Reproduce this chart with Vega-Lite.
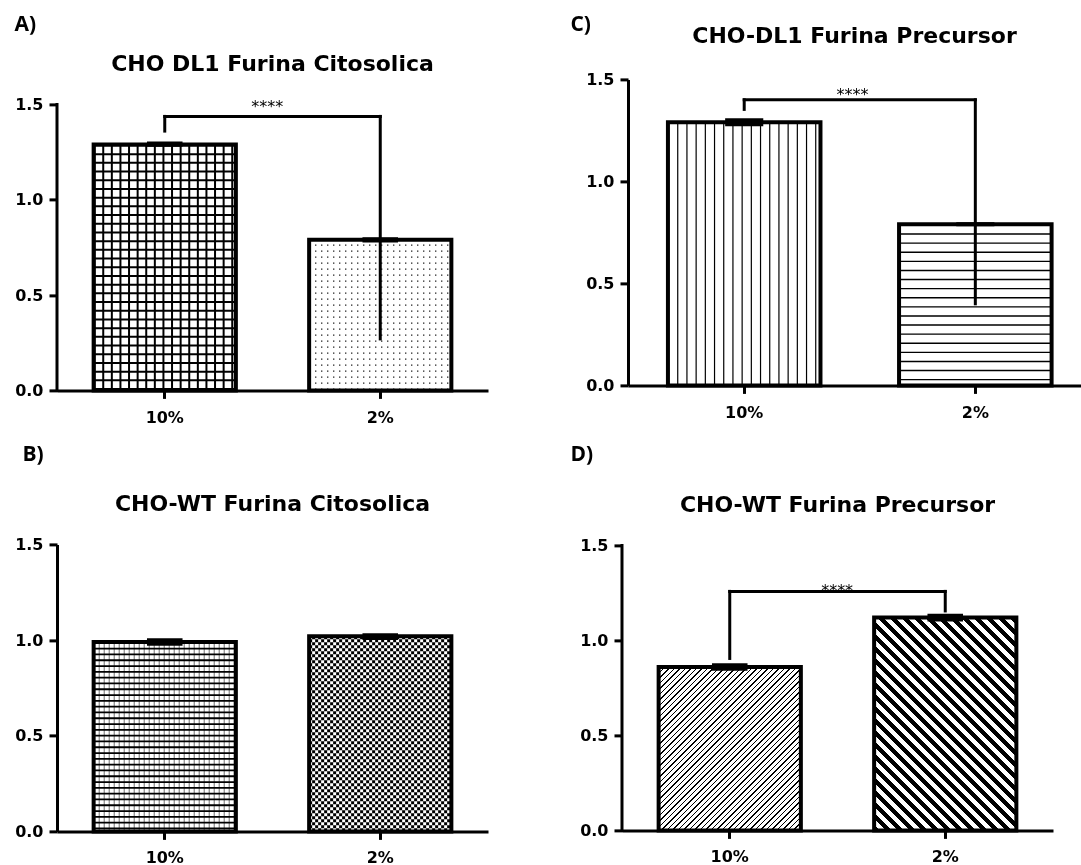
{
"$schema": "https://vega.github.io/schema/vega-lite/v6.json",
"background": "white",
"padding": {"left": 14, "top": 13.4, "right": 0, "bottom": 0},
"config": {
  "view": {"stroke": null},
  "font": "DejaVu Sans",
  "axis": {"domainColor": "#000", "domainWidth": 3, "tickColor": "#000", "tickWidth": 3, "tickSize": 8, "labelFont": "DejaVu Sans", "labelFontWeight": "bold", "labelFontSize": 16, "labelColor": "#000", "grid": false},
  "axisY": {"labelPadding": 6, "titleAngle": 0, "titleAlign": "left", "titleBaseline": "top", "titleFont": "Open Sans", "titleFontSize": 21, "titleFontWeight": "bold", "titleColor": "#000"},
  "axisX": {"labelPadding": 11, "labelAngle": 0},
  "title": {"anchor": "middle", "frame": "group", "font": "DejaVu Sans", "fontSize": 22, "fontWeight": "bold", "color": "#000"}
},
"datasets": {
  "bars": [
    {"p": "A", "g": "10%", "v": 1.29, "lo": 1.278, "hi": 1.306},
    {"p": "A", "g": "2%", "v": 0.79, "lo": 0.776, "hi": 0.803},
    {"p": "C", "g": "10%", "v": 1.29, "lo": 1.27, "hi": 1.31},
    {"p": "C", "g": "2%", "v": 0.79, "lo": 0.78, "hi": 0.80},
    {"p": "B", "g": "10%", "v": 0.99, "lo": 0.97, "hi": 1.01},
    {"p": "B", "g": "2%", "v": 1.02, "lo": 1.0, "hi": 1.035},
    {"p": "D", "g": "10%", "v": 0.86, "lo": 0.84, "hi": 0.88},
    {"p": "D", "g": "2%", "v": 1.12, "lo": 1.10, "hi": 1.14}
  ],
  "sig": [
    {"p": "A", "a": "10%", "b": "2%", "y": 1.437, "ya": 1.36, "yb": 0.27, "s": "****"},
    {"p": "C", "a": "10%", "b": "2%", "y": 1.40, "ya": 1.353, "yb": 0.40, "s": "****"},
    {"p": "D", "a": "10%", "b": "2%", "y": 1.258, "ya": 0.905, "yb": 1.155, "s": "****"}
  ],
  "axisline": [{"lo": 0, "hi": 1.5}]
},
"columns": 2,
"align": "none",
"spacing": {"row": 18, "column": 82},
"resolve": {"scale": {"strokeWidth": "independent"}},
"concat": [
{
  "width": 431, "height": 311,
  "title": {"text": "CHO DL1 Furina Citosolica", "offset": -62},
  "layer": [
   {"data": {"name": "bars"}, "transform": [{"filter": "datum.p == 'A'"}],
    "mark": {"type": "bar", "fill": "#fff"},
    "encoding": {
      "x": {"field": "g", "type": "nominal", "scale": {"domain": ["10%", "2%"], "paddingInner": 0.34, "paddingOuter": 0.17}, "axis": {"labelAngle": 0, "title": null}},
      "y": {"field": "v", "type": "quantitative", "scale": {"domain": [0, 1.6311], "nice": false}, "axis": {"values": [0, 0.5, 1, 1.5], "format": ".1f", "domain": false, "title": "A)", "titleX": -43, "titleY": -65.6}}}},
   {"data": {"name": "axisline"},
    "mark": {"type": "rule", "stroke": "#000", "strokeWidth": 3, "strokeCap": "square"},
    "encoding": {"x": {"datum": "10%", "type": "nominal", "bandPosition": -0.2576}, "y": {"field": "lo", "type": "quantitative"}, "y2": {"field": "hi"}}},
   {"data": {"name": "bars"}, "transform": [{"filter": "datum.p == 'A' && datum.g == '10%'"}],
    "mark": {"type": "rule", "clip": true, "stroke": "#000", "strokeDash": [2, 6.6], "strokeCap": "butt"},
    "encoding": {"x": {"field": "g", "type": "nominal", "bandPosition": 0}, "x2": {"field": "g", "bandPosition": 1}, "y": {"datum": 0},
      "strokeWidth": {"field": "v", "type": "quantitative", "scale": {"domain": [0, 1.5], "range": [0, 572]}, "legend": null}}},
   {"data": {"name": "bars"}, "transform": [{"filter": "datum.p == 'A' && datum.g == '10%'"}],
    "mark": {"type": "rule", "clip": true, "stroke": "#000", "strokeWidth": 142, "strokeDash": [2, 6.7], "strokeCap": "butt"},
    "encoding": {"x": {"field": "g", "type": "nominal"}, "y": {"field": "v", "type": "quantitative"}, "y2": {"datum": 0}}},
   {"data": {"name": "bars"}, "transform": [{"filter": "datum.p == 'A' && datum.g == '2%'"}],
    "mark": {"type": "rule", "clip": true, "stroke": "#000", "strokeDash": [1.2, 4.8], "strokeCap": "butt"},
    "encoding": {"x": {"field": "g", "type": "nominal", "bandPosition": 0}, "x2": {"field": "g", "bandPosition": 1}, "y": {"datum": 0},
      "strokeWidth": {"field": "v", "type": "quantitative", "scale": {"domain": [0, 1.5], "range": [0, 572]}, "legend": null}}},
   {"data": {"name": "bars"}, "transform": [{"filter": "datum.p == 'A' && datum.g == '2%'"}],
    "mark": {"type": "rule", "clip": true, "stroke": "#fff", "strokeWidth": 142, "strokeDash": [4.8, 1.2], "strokeCap": "butt"},
    "encoding": {"x": {"field": "g", "type": "nominal"}, "y": {"field": "v", "type": "quantitative"}, "y2": {"datum": 0}}},
   {"data": {"name": "bars"}, "transform": [{"filter": "datum.p == 'A'"}],
    "mark": {"type": "bar", "fill": "#fff", "fillOpacity": 0, "stroke": "#000", "strokeWidth": 4},
    "encoding": {"x": {"field": "g", "type": "nominal"}, "y": {"field": "v", "type": "quantitative"}}},
   {"data": {"name": "bars"}, "transform": [{"filter": "datum.p == 'A'"}],
    "mark": {"type": "bar", "fill": "#000", "width": {"band": 0.25}},
    "encoding": {"x": {"field": "g", "type": "nominal"}, "y": {"field": "lo", "type": "quantitative"}, "y2": {"field": "hi"}}},
   {"data": {"name": "sig"}, "transform": [{"filter": "datum.p == 'A'"}],
    "mark": {"type": "rule", "stroke": "#000", "strokeWidth": 3, "strokeCap": "square"},
    "encoding": {"x": {"field": "a", "type": "nominal", "bandPosition": 0.5}, "x2": {"field": "b", "bandPosition": 0.5}, "y": {"field": "y", "type": "quantitative"}}},
   {"data": {"name": "sig"}, "transform": [{"filter": "datum.p == 'A'"}],
    "mark": {"type": "rule", "stroke": "#000", "strokeWidth": 3, "strokeCap": "square"},
    "encoding": {"x": {"field": "a", "type": "nominal"}, "y": {"field": "y", "type": "quantitative"}, "y2": {"field": "ya"}}},
   {"data": {"name": "sig"}, "transform": [{"filter": "datum.p == 'A'"}],
    "mark": {"type": "rule", "stroke": "#000", "strokeWidth": 3, "strokeCap": "square"},
    "encoding": {"x": {"field": "b", "type": "nominal"}, "y": {"field": "y", "type": "quantitative"}, "y2": {"field": "yb"}}},
   {"data": {"name": "sig"}, "transform": [{"filter": "datum.p == 'A'"}],
    "mark": {"type": "text", "font": "DejaVu Sans", "fontSize": 16, "color": "#000", "baseline": "alphabetic", "align": "center", "dy": -4},
    "encoding": {"x": {"field": "a", "type": "nominal", "bandPosition": 1.22}, "y": {"field": "y", "type": "quantitative"}, "text": {"field": "s"}}}
  ]
},
{
  "width": 453, "height": 306,
  "title": {"text": "CHO-DL1 Furina Precursor", "offset": -34},
  "layer": [
   {"data": {"name": "bars"}, "transform": [{"filter": "datum.p == 'C'"}],
    "mark": {"type": "bar", "fill": "#fff"},
    "encoding": {
      "x": {"field": "g", "type": "nominal", "scale": {"domain": ["10%", "2%"], "paddingInner": 0.34, "paddingOuter": 0.15, "align": 0.576}, "axis": {"labelAngle": 0, "title": null}},
      "y": {"field": "v", "type": "quantitative", "scale": {"domain": [0, 1.5], "nice": false}, "axis": {"values": [0, 0.5, 1, 1.5], "format": ".1f", "title": "C)", "titleX": -58, "titleY": -65.6}}}},
   {"data": {"name": "bars"}, "transform": [{"filter": "datum.p == 'C' && datum.g == '10%'"}],
    "mark": {"type": "rule", "clip": true, "stroke": "#000", "strokeDash": [1.2, 8], "strokeCap": "butt"},
    "encoding": {"x": {"field": "g", "type": "nominal", "bandPosition": 0}, "x2": {"field": "g", "bandPosition": 1}, "y": {"datum": 0},
      "strokeWidth": {"field": "v", "type": "quantitative", "scale": {"domain": [0, 1.5], "range": [0, 612]}, "legend": null}}},
   {"data": {"name": "bars"}, "transform": [{"filter": "datum.p == 'C' && datum.g == '2%'"}],
    "mark": {"type": "rule", "clip": true, "stroke": "#000", "strokeWidth": 152, "strokeDash": [1.4, 7.7], "strokeCap": "butt"},
    "encoding": {"x": {"field": "g", "type": "nominal"}, "y": {"field": "v", "type": "quantitative"}, "y2": {"datum": 0}}},
   {"data": {"name": "bars"}, "transform": [{"filter": "datum.p == 'C'"}],
    "mark": {"type": "bar", "fill": "#fff", "fillOpacity": 0, "stroke": "#000", "strokeWidth": 4},
    "encoding": {"x": {"field": "g", "type": "nominal"}, "y": {"field": "v", "type": "quantitative"}}},
   {"data": {"name": "bars"}, "transform": [{"filter": "datum.p == 'C'"}],
    "mark": {"type": "bar", "fill": "#000", "width": {"band": 0.25}},
    "encoding": {"x": {"field": "g", "type": "nominal"}, "y": {"field": "lo", "type": "quantitative"}, "y2": {"field": "hi"}}},
   {"data": {"name": "sig"}, "transform": [{"filter": "datum.p == 'C'"}],
    "mark": {"type": "rule", "stroke": "#000", "strokeWidth": 3, "strokeCap": "square"},
    "encoding": {"x": {"field": "a", "type": "nominal", "bandPosition": 0.5}, "x2": {"field": "b", "bandPosition": 0.5}, "y": {"field": "y", "type": "quantitative"}}},
   {"data": {"name": "sig"}, "transform": [{"filter": "datum.p == 'C'"}],
    "mark": {"type": "rule", "stroke": "#000", "strokeWidth": 3, "strokeCap": "square"},
    "encoding": {"x": {"field": "a", "type": "nominal"}, "y": {"field": "y", "type": "quantitative"}, "y2": {"field": "ya"}}},
   {"data": {"name": "sig"}, "transform": [{"filter": "datum.p == 'C'"}],
    "mark": {"type": "rule", "stroke": "#000", "strokeWidth": 3, "strokeCap": "square"},
    "encoding": {"x": {"field": "b", "type": "nominal"}, "y": {"field": "y", "type": "quantitative"}, "y2": {"field": "yb"}}},
   {"data": {"name": "sig"}, "transform": [{"filter": "datum.p == 'C'"}],
    "mark": {"type": "text", "font": "DejaVu Sans", "fontSize": 16, "color": "#000", "baseline": "alphabetic", "align": "center", "dy": 0},
    "encoding": {"x": {"field": "a", "type": "nominal", "bandPosition": 1.21}, "y": {"field": "y", "type": "quantitative"}, "text": {"field": "s"}}}
  ]
},
{
  "width": 431, "height": 287,
  "title": {"text": "CHO-WT Furina Citosolica", "offset": -72},
  "layer": [
   {"data": {"name": "bars"}, "transform": [{"filter": "datum.p == 'B'"}],
    "mark": {"type": "bar", "fill": "#fff"},
    "encoding": {
      "x": {"field": "g", "type": "nominal", "scale": {"domain": ["10%", "2%"], "paddingInner": 0.34, "paddingOuter": 0.17}, "axis": {"labelAngle": 0, "title": null, "labelPadding": 10}},
      "y": {"field": "v", "type": "quantitative", "scale": {"domain": [0, 1.5], "nice": false}, "axis": {"values": [0, 0.5, 1, 1.5], "format": ".1f", "title": "B)", "titleX": -35, "titleY": -100.6}}}},
   {"data": {"name": "bars"}, "transform": [{"filter": "datum.p == 'B' && datum.g == '10%'"}],
    "mark": {"type": "rule", "clip": true, "stroke": "#888", "strokeDash": [1.2, 3.8], "strokeCap": "butt"},
    "encoding": {"x": {"field": "g", "type": "nominal", "bandPosition": 0}, "x2": {"field": "g", "bandPosition": 1}, "y": {"datum": 0},
      "strokeWidth": {"field": "v", "type": "quantitative", "scale": {"domain": [0, 1.5], "range": [0, 574]}, "legend": null}}},
   {"data": {"name": "bars"}, "transform": [{"filter": "datum.p == 'B' && datum.g == '10%'"}],
    "mark": {"type": "rule", "clip": true, "stroke": "#000", "strokeWidth": 142, "strokeDash": [1.8, 4], "strokeCap": "butt"},
    "encoding": {"x": {"field": "g", "type": "nominal"}, "y": {"field": "v", "type": "quantitative"}, "y2": {"datum": 0}}},
   {"data": {"name": "bars"}, "transform": [{"filter": "datum.p == 'B' && datum.g == '2%'"}],
    "mark": {"type": "rule", "clip": true, "stroke": "#000", "strokeDash": [3, 3], "strokeCap": "butt"},
    "encoding": {"x": {"field": "g", "type": "nominal", "bandPosition": 0}, "x2": {"field": "g", "bandPosition": 1}, "y": {"datum": 0},
      "strokeWidth": {"field": "v", "type": "quantitative", "scale": {"domain": [0, 1.5], "range": [0, 574]}, "legend": null}}},
   {"data": {"name": "bars"}, "transform": [{"filter": "datum.p == 'B' && datum.g == '2%'"}],
    "mark": {"type": "rule", "stroke": "#fff", "strokeWidth": 142, "strokeDash": [3, 3], "strokeCap": "butt", "blend": "difference"},
    "encoding": {"x": {"field": "g", "type": "nominal"}, "y": {"field": "v", "type": "quantitative"}, "y2": {"datum": 0}}},
   {"data": {"name": "bars"}, "transform": [{"filter": "datum.p == 'B'"}],
    "mark": {"type": "bar", "fill": "#fff", "fillOpacity": 0, "stroke": "#000", "strokeWidth": 4},
    "encoding": {"x": {"field": "g", "type": "nominal"}, "y": {"field": "v", "type": "quantitative"}}},
   {"data": {"name": "bars"}, "transform": [{"filter": "datum.p == 'B'"}],
    "mark": {"type": "bar", "fill": "#000", "width": {"band": 0.25}},
    "encoding": {"x": {"field": "g", "type": "nominal"}, "y": {"field": "lo", "type": "quantitative"}, "y2": {"field": "hi"}}}
  ]
},
{
  "width": 431, "height": 288,
  "title": {"text": "CHO-WT Furina Precursor", "offset": -73},
  "layer": [
   {"data": {"name": "bars"}, "transform": [{"filter": "datum.p == 'D'"}],
    "mark": {"type": "bar", "fill": "#fff"},
    "encoding": {
      "x": {"field": "g", "type": "nominal", "scale": {"domain": ["10%", "2%"], "paddingInner": 0.34, "paddingOuter": 0.17}, "axis": {"labelAngle": 0, "title": null, "labelPadding": 10}},
      "y": {"field": "v", "type": "quantitative", "scale": {"domain": [0, 1.5158], "nice": false}, "axis": {"values": [0, 0.5, 1, 1.5], "format": ".1f", "domain": false, "title": "D)", "titleX": -52, "titleY": -98.4}}}},
   {"data": {"name": "axisline"},
    "mark": {"type": "rule", "stroke": "#000", "strokeWidth": 3, "strokeCap": "square"},
    "encoding": {"x": {"datum": "10%", "type": "nominal", "bandPosition": -0.2576}, "y": {"field": "lo", "type": "quantitative"}, "y2": {"field": "hi"}}},
   {"data": {"name": "bars"}, "transform": [{"filter": "datum.p == 'D' && datum.g == '10%'"}],
    "mark": {"type": "bar", "fill": {"gradient": "linear", "x1": 0, "y1": 0, "x2": 1, "y2": 1.149, "stops": [
{"offset":0,"color":"#fff"},{"offset":0,"color":"#000"},{"offset":0.0055,"color":"#000"},{"offset":0.0055,"color":"#fff"},
{"offset":0.0167,"color":"#fff"},{"offset":0.0167,"color":"#000"},{"offset":0.0222,"color":"#000"},{"offset":0.0222,"color":"#fff"},
{"offset":0.0333,"color":"#fff"},{"offset":0.0333,"color":"#000"},{"offset":0.0388,"color":"#000"},{"offset":0.0388,"color":"#fff"},
{"offset":0.05,"color":"#fff"},{"offset":0.05,"color":"#000"},{"offset":0.0555,"color":"#000"},{"offset":0.0555,"color":"#fff"},
{"offset":0.0667,"color":"#fff"},{"offset":0.0667,"color":"#000"},{"offset":0.0722,"color":"#000"},{"offset":0.0722,"color":"#fff"},
{"offset":0.0833,"color":"#fff"},{"offset":0.0833,"color":"#000"},{"offset":0.0888,"color":"#000"},{"offset":0.0888,"color":"#fff"},
{"offset":0.1,"color":"#fff"},{"offset":0.1,"color":"#000"},{"offset":0.1055,"color":"#000"},{"offset":0.1055,"color":"#fff"},
{"offset":0.1167,"color":"#fff"},{"offset":0.1167,"color":"#000"},{"offset":0.1222,"color":"#000"},{"offset":0.1222,"color":"#fff"},
{"offset":0.1333,"color":"#fff"},{"offset":0.1333,"color":"#000"},{"offset":0.1388,"color":"#000"},{"offset":0.1388,"color":"#fff"},
{"offset":0.15,"color":"#fff"},{"offset":0.15,"color":"#000"},{"offset":0.1555,"color":"#000"},{"offset":0.1555,"color":"#fff"},
{"offset":0.1667,"color":"#fff"},{"offset":0.1667,"color":"#000"},{"offset":0.1722,"color":"#000"},{"offset":0.1722,"color":"#fff"},
{"offset":0.1833,"color":"#fff"},{"offset":0.1833,"color":"#000"},{"offset":0.1888,"color":"#000"},{"offset":0.1888,"color":"#fff"},
{"offset":0.2,"color":"#fff"},{"offset":0.2,"color":"#000"},{"offset":0.2055,"color":"#000"},{"offset":0.2055,"color":"#fff"},
{"offset":0.2167,"color":"#fff"},{"offset":0.2167,"color":"#000"},{"offset":0.2222,"color":"#000"},{"offset":0.2222,"color":"#fff"},
{"offset":0.2333,"color":"#fff"},{"offset":0.2333,"color":"#000"},{"offset":0.2388,"color":"#000"},{"offset":0.2388,"color":"#fff"},
{"offset":0.25,"color":"#fff"},{"offset":0.25,"color":"#000"},{"offset":0.2555,"color":"#000"},{"offset":0.2555,"color":"#fff"},
{"offset":0.2667,"color":"#fff"},{"offset":0.2667,"color":"#000"},{"offset":0.2722,"color":"#000"},{"offset":0.2722,"color":"#fff"},
{"offset":0.2833,"color":"#fff"},{"offset":0.2833,"color":"#000"},{"offset":0.2888,"color":"#000"},{"offset":0.2888,"color":"#fff"},
{"offset":0.3,"color":"#fff"},{"offset":0.3,"color":"#000"},{"offset":0.3055,"color":"#000"},{"offset":0.3055,"color":"#fff"},
{"offset":0.3167,"color":"#fff"},{"offset":0.3167,"color":"#000"},{"offset":0.3222,"color":"#000"},{"offset":0.3222,"color":"#fff"},
{"offset":0.3333,"color":"#fff"},{"offset":0.3333,"color":"#000"},{"offset":0.3388,"color":"#000"},{"offset":0.3388,"color":"#fff"},
{"offset":0.35,"color":"#fff"},{"offset":0.35,"color":"#000"},{"offset":0.3555,"color":"#000"},{"offset":0.3555,"color":"#fff"},
{"offset":0.3667,"color":"#fff"},{"offset":0.3667,"color":"#000"},{"offset":0.3722,"color":"#000"},{"offset":0.3722,"color":"#fff"},
{"offset":0.3833,"color":"#fff"},{"offset":0.3833,"color":"#000"},{"offset":0.3888,"color":"#000"},{"offset":0.3888,"color":"#fff"},
{"offset":0.4,"color":"#fff"},{"offset":0.4,"color":"#000"},{"offset":0.4055,"color":"#000"},{"offset":0.4055,"color":"#fff"},
{"offset":0.4167,"color":"#fff"},{"offset":0.4167,"color":"#000"},{"offset":0.4222,"color":"#000"},{"offset":0.4222,"color":"#fff"},
{"offset":0.4333,"color":"#fff"},{"offset":0.4333,"color":"#000"},{"offset":0.4388,"color":"#000"},{"offset":0.4388,"color":"#fff"},
{"offset":0.45,"color":"#fff"},{"offset":0.45,"color":"#000"},{"offset":0.4555,"color":"#000"},{"offset":0.4555,"color":"#fff"},
{"offset":0.4667,"color":"#fff"},{"offset":0.4667,"color":"#000"},{"offset":0.4722,"color":"#000"},{"offset":0.4722,"color":"#fff"},
{"offset":0.4833,"color":"#fff"},{"offset":0.4833,"color":"#000"},{"offset":0.4888,"color":"#000"},{"offset":0.4888,"color":"#fff"},
{"offset":0.5,"color":"#fff"},{"offset":0.5,"color":"#000"},{"offset":0.5055,"color":"#000"},{"offset":0.5055,"color":"#fff"},
{"offset":0.5167,"color":"#fff"},{"offset":0.5167,"color":"#000"},{"offset":0.5222,"color":"#000"},{"offset":0.5222,"color":"#fff"},
{"offset":0.5333,"color":"#fff"},{"offset":0.5333,"color":"#000"},{"offset":0.5388,"color":"#000"},{"offset":0.5388,"color":"#fff"},
{"offset":0.55,"color":"#fff"},{"offset":0.55,"color":"#000"},{"offset":0.5555,"color":"#000"},{"offset":0.5555,"color":"#fff"},
{"offset":0.5667,"color":"#fff"},{"offset":0.5667,"color":"#000"},{"offset":0.5722,"color":"#000"},{"offset":0.5722,"color":"#fff"},
{"offset":0.5833,"color":"#fff"},{"offset":0.5833,"color":"#000"},{"offset":0.5888,"color":"#000"},{"offset":0.5888,"color":"#fff"},
{"offset":0.6,"color":"#fff"},{"offset":0.6,"color":"#000"},{"offset":0.6055,"color":"#000"},{"offset":0.6055,"color":"#fff"},
{"offset":0.6167,"color":"#fff"},{"offset":0.6167,"color":"#000"},{"offset":0.6222,"color":"#000"},{"offset":0.6222,"color":"#fff"},
{"offset":0.6333,"color":"#fff"},{"offset":0.6333,"color":"#000"},{"offset":0.6388,"color":"#000"},{"offset":0.6388,"color":"#fff"},
{"offset":0.65,"color":"#fff"},{"offset":0.65,"color":"#000"},{"offset":0.6555,"color":"#000"},{"offset":0.6555,"color":"#fff"},
{"offset":0.6667,"color":"#fff"},{"offset":0.6667,"color":"#000"},{"offset":0.6722,"color":"#000"},{"offset":0.6722,"color":"#fff"},
{"offset":0.6833,"color":"#fff"},{"offset":0.6833,"color":"#000"},{"offset":0.6888,"color":"#000"},{"offset":0.6888,"color":"#fff"},
{"offset":0.7,"color":"#fff"},{"offset":0.7,"color":"#000"},{"offset":0.7055,"color":"#000"},{"offset":0.7055,"color":"#fff"},
{"offset":0.7167,"color":"#fff"},{"offset":0.7167,"color":"#000"},{"offset":0.7222,"color":"#000"},{"offset":0.7222,"color":"#fff"},
{"offset":0.7333,"color":"#fff"},{"offset":0.7333,"color":"#000"},{"offset":0.7388,"color":"#000"},{"offset":0.7388,"color":"#fff"},
{"offset":0.75,"color":"#fff"},{"offset":0.75,"color":"#000"},{"offset":0.7555,"color":"#000"},{"offset":0.7555,"color":"#fff"},
{"offset":0.7667,"color":"#fff"},{"offset":0.7667,"color":"#000"},{"offset":0.7722,"color":"#000"},{"offset":0.7722,"color":"#fff"},
{"offset":0.7833,"color":"#fff"},{"offset":0.7833,"color":"#000"},{"offset":0.7888,"color":"#000"},{"offset":0.7888,"color":"#fff"},
{"offset":0.8,"color":"#fff"},{"offset":0.8,"color":"#000"},{"offset":0.8055,"color":"#000"},{"offset":0.8055,"color":"#fff"},
{"offset":0.8167,"color":"#fff"},{"offset":0.8167,"color":"#000"},{"offset":0.8222,"color":"#000"},{"offset":0.8222,"color":"#fff"},
{"offset":0.8333,"color":"#fff"},{"offset":0.8333,"color":"#000"},{"offset":0.8388,"color":"#000"},{"offset":0.8388,"color":"#fff"},
{"offset":0.85,"color":"#fff"},{"offset":0.85,"color":"#000"},{"offset":0.8555,"color":"#000"},{"offset":0.8555,"color":"#fff"},
{"offset":0.8667,"color":"#fff"},{"offset":0.8667,"color":"#000"},{"offset":0.8722,"color":"#000"},{"offset":0.8722,"color":"#fff"},
{"offset":0.8833,"color":"#fff"},{"offset":0.8833,"color":"#000"},{"offset":0.8888,"color":"#000"},{"offset":0.8888,"color":"#fff"},
{"offset":0.9,"color":"#fff"},{"offset":0.9,"color":"#000"},{"offset":0.9055,"color":"#000"},{"offset":0.9055,"color":"#fff"},
{"offset":0.9167,"color":"#fff"},{"offset":0.9167,"color":"#000"},{"offset":0.9222,"color":"#000"},{"offset":0.9222,"color":"#fff"},
{"offset":0.9333,"color":"#fff"},{"offset":0.9333,"color":"#000"},{"offset":0.9388,"color":"#000"},{"offset":0.9388,"color":"#fff"}
]}},
    "encoding": {"x": {"field": "g", "type": "nominal"}, "y": {"field": "v", "type": "quantitative"}}},
   {"data": {"name": "bars"}, "transform": [{"filter": "datum.p == 'D' && datum.g == '2%'"}],
    "mark": {"type": "bar", "fill": {"gradient": "linear", "x1": 0, "y1": 1, "x2": 0.938, "y2": -0.4037, "stops": [
{"offset":0,"color":"#fff"},{"offset":0,"color":"#000"},{"offset":0.0125,"color":"#000"},{"offset":0.0125,"color":"#fff"},
{"offset":0.0278,"color":"#fff"},{"offset":0.0278,"color":"#000"},{"offset":0.0403,"color":"#000"},{"offset":0.0403,"color":"#fff"},
{"offset":0.0556,"color":"#fff"},{"offset":0.0556,"color":"#000"},{"offset":0.0681,"color":"#000"},{"offset":0.0681,"color":"#fff"},
{"offset":0.0833,"color":"#fff"},{"offset":0.0833,"color":"#000"},{"offset":0.0958,"color":"#000"},{"offset":0.0958,"color":"#fff"},
{"offset":0.1111,"color":"#fff"},{"offset":0.1111,"color":"#000"},{"offset":0.1236,"color":"#000"},{"offset":0.1236,"color":"#fff"},
{"offset":0.1389,"color":"#fff"},{"offset":0.1389,"color":"#000"},{"offset":0.1514,"color":"#000"},{"offset":0.1514,"color":"#fff"},
{"offset":0.1667,"color":"#fff"},{"offset":0.1667,"color":"#000"},{"offset":0.1792,"color":"#000"},{"offset":0.1792,"color":"#fff"},
{"offset":0.1944,"color":"#fff"},{"offset":0.1944,"color":"#000"},{"offset":0.2069,"color":"#000"},{"offset":0.2069,"color":"#fff"},
{"offset":0.2222,"color":"#fff"},{"offset":0.2222,"color":"#000"},{"offset":0.2347,"color":"#000"},{"offset":0.2347,"color":"#fff"},
{"offset":0.25,"color":"#fff"},{"offset":0.25,"color":"#000"},{"offset":0.2625,"color":"#000"},{"offset":0.2625,"color":"#fff"},
{"offset":0.2778,"color":"#fff"},{"offset":0.2778,"color":"#000"},{"offset":0.2903,"color":"#000"},{"offset":0.2903,"color":"#fff"},
{"offset":0.3056,"color":"#fff"},{"offset":0.3056,"color":"#000"},{"offset":0.3181,"color":"#000"},{"offset":0.3181,"color":"#fff"},
{"offset":0.3333,"color":"#fff"},{"offset":0.3333,"color":"#000"},{"offset":0.3458,"color":"#000"},{"offset":0.3458,"color":"#fff"},
{"offset":0.3611,"color":"#fff"},{"offset":0.3611,"color":"#000"},{"offset":0.3736,"color":"#000"},{"offset":0.3736,"color":"#fff"},
{"offset":0.3889,"color":"#fff"},{"offset":0.3889,"color":"#000"},{"offset":0.4014,"color":"#000"},{"offset":0.4014,"color":"#fff"},
{"offset":0.4167,"color":"#fff"},{"offset":0.4167,"color":"#000"},{"offset":0.4292,"color":"#000"},{"offset":0.4292,"color":"#fff"},
{"offset":0.4444,"color":"#fff"},{"offset":0.4444,"color":"#000"},{"offset":0.4569,"color":"#000"},{"offset":0.4569,"color":"#fff"},
{"offset":0.4722,"color":"#fff"},{"offset":0.4722,"color":"#000"},{"offset":0.4847,"color":"#000"},{"offset":0.4847,"color":"#fff"},
{"offset":0.5,"color":"#fff"},{"offset":0.5,"color":"#000"},{"offset":0.5125,"color":"#000"},{"offset":0.5125,"color":"#fff"},
{"offset":0.5278,"color":"#fff"},{"offset":0.5278,"color":"#000"},{"offset":0.5403,"color":"#000"},{"offset":0.5403,"color":"#fff"},
{"offset":0.5556,"color":"#fff"},{"offset":0.5556,"color":"#000"},{"offset":0.5681,"color":"#000"},{"offset":0.5681,"color":"#fff"},
{"offset":0.5833,"color":"#fff"},{"offset":0.5833,"color":"#000"},{"offset":0.5958,"color":"#000"},{"offset":0.5958,"color":"#fff"},
{"offset":0.6111,"color":"#fff"},{"offset":0.6111,"color":"#000"},{"offset":0.6236,"color":"#000"},{"offset":0.6236,"color":"#fff"},
{"offset":0.6389,"color":"#fff"},{"offset":0.6389,"color":"#000"},{"offset":0.6514,"color":"#000"},{"offset":0.6514,"color":"#fff"},
{"offset":0.6667,"color":"#fff"},{"offset":0.6667,"color":"#000"},{"offset":0.6792,"color":"#000"},{"offset":0.6792,"color":"#fff"},
{"offset":0.6944,"color":"#fff"},{"offset":0.6944,"color":"#000"},{"offset":0.7069,"color":"#000"},{"offset":0.7069,"color":"#fff"},
{"offset":0.7222,"color":"#fff"},{"offset":0.7222,"color":"#000"},{"offset":0.7347,"color":"#000"},{"offset":0.7347,"color":"#fff"},
{"offset":0.75,"color":"#fff"},{"offset":0.75,"color":"#000"},{"offset":0.7625,"color":"#000"},{"offset":0.7625,"color":"#fff"},
{"offset":0.7778,"color":"#fff"},{"offset":0.7778,"color":"#000"},{"offset":0.7903,"color":"#000"},{"offset":0.7903,"color":"#fff"},
{"offset":0.8056,"color":"#fff"},{"offset":0.8056,"color":"#000"},{"offset":0.8181,"color":"#000"},{"offset":0.8181,"color":"#fff"},
{"offset":0.8333,"color":"#fff"},{"offset":0.8333,"color":"#000"},{"offset":0.8458,"color":"#000"},{"offset":0.8458,"color":"#fff"}
]}},
    "encoding": {"x": {"field": "g", "type": "nominal"}, "y": {"field": "v", "type": "quantitative"}}},
   {"data": {"name": "bars"}, "transform": [{"filter": "datum.p == 'D'"}],
    "mark": {"type": "bar", "fill": "#fff", "fillOpacity": 0, "stroke": "#000", "strokeWidth": 4},
    "encoding": {"x": {"field": "g", "type": "nominal"}, "y": {"field": "v", "type": "quantitative"}}},
   {"data": {"name": "bars"}, "transform": [{"filter": "datum.p == 'D'"}],
    "mark": {"type": "bar", "fill": "#000", "width": {"band": 0.25}},
    "encoding": {"x": {"field": "g", "type": "nominal"}, "y": {"field": "lo", "type": "quantitative"}, "y2": {"field": "hi"}}},
   {"data": {"name": "sig"}, "transform": [{"filter": "datum.p == 'D'"}],
    "mark": {"type": "rule", "stroke": "#000", "strokeWidth": 3, "strokeCap": "square"},
    "encoding": {"x": {"field": "a", "type": "nominal", "bandPosition": 0.5}, "x2": {"field": "b", "bandPosition": 0.5}, "y": {"field": "y", "type": "quantitative"}}},
   {"data": {"name": "sig"}, "transform": [{"filter": "datum.p == 'D'"}],
    "mark": {"type": "rule", "stroke": "#000", "strokeWidth": 3, "strokeCap": "square"},
    "encoding": {"x": {"field": "a", "type": "nominal"}, "y": {"field": "y", "type": "quantitative"}, "y2": {"field": "ya"}}},
   {"data": {"name": "sig"}, "transform": [{"filter": "datum.p == 'D'"}],
    "mark": {"type": "rule", "stroke": "#000", "strokeWidth": 3, "strokeCap": "square"},
    "encoding": {"x": {"field": "b", "type": "nominal"}, "y": {"field": "y", "type": "quantitative"}, "y2": {"field": "yb"}}},
   {"data": {"name": "sig"}, "transform": [{"filter": "datum.p == 'D'"}],
    "mark": {"type": "text", "font": "DejaVu Sans", "fontSize": 16, "color": "#000", "baseline": "alphabetic", "align": "center", "dy": 5},
    "encoding": {"x": {"field": "a", "type": "nominal", "bandPosition": 1.255}, "y": {"field": "y", "type": "quantitative"}, "text": {"field": "s"}}}
  ]
}
]
}
